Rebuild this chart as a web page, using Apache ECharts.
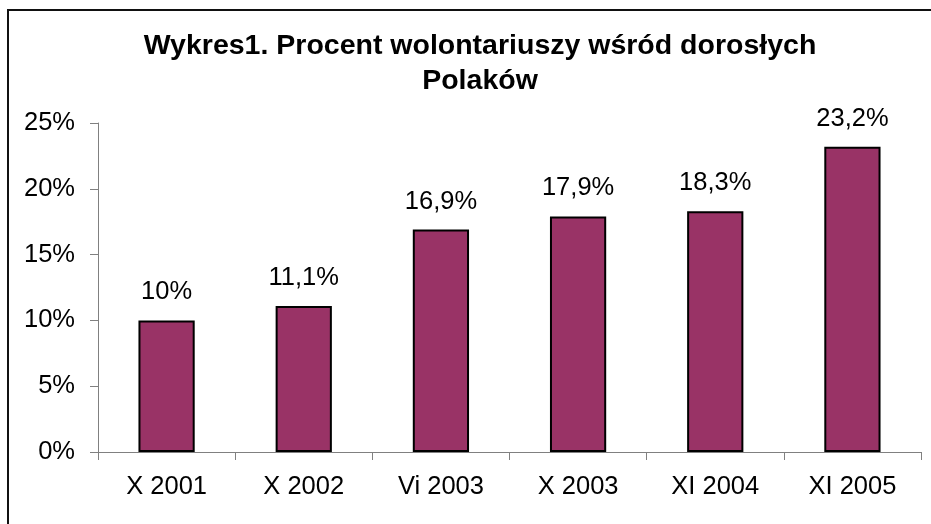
<!DOCTYPE html>
<html>
<head>
<meta charset="utf-8">
<script src="https://cdn.jsdelivr.net/npm/echarts@6/dist/echarts.min.js"></script>
<style>
html,body{margin:0;padding:0;background:#fff;}
#chart{width:931px;height:524px;}
</style>
</head>
<body>
<div id="chart"></div>
<script>
const categories = ["X 2001", "X 2002", "Vi 2003", "X 2003", "XI 2004", "XI 2005"];
const values = [10, 11.1, 16.9, 17.9, 18.3, 23.2];
const yTicks = [0, 5, 10, 15, 20, 25];
const titleText = "Wykres1. Procent wolontariuszy wśród dorosłych\nPolaków";

const chart = echarts.init(document.getElementById('chart'), null, {renderer: 'canvas'});
const fontFam = '"Liberation Sans", Arial, sans-serif';
chart.setOption({
  animation: false,
  backgroundColor: '#fff',
  title: {
    text: titleText,
    left: 475,
    top: 24,
    textAlign: 'center',
    textStyle: {fontFamily: fontFam, fontSize: 28.5, fontWeight: 'bold', color: '#000', lineHeight: 35}
  },
  graphic: [{
    type: 'rect',
    shape: {x: 8, y: 10, width: 940, height: 540},
    style: {fill: 'none', stroke: '#111', lineWidth: 2},
    silent: true
  }],
  grid: {left: 98, right: 10, top: 123, bottom: 72, containLabel: false},
  xAxis: {
    type: 'category',
    data: categories,
    axisLine: {lineStyle: {color: '#808080', width: 1}},
    axisTick: {show: true, length: 8, lineStyle: {color: '#808080'}, alignWithLabel: false},
    axisLabel: {fontFamily: fontFam, fontSize: 25.5, color: '#000', margin: 22}
  },
  yAxis: {
    type: 'value',
    min: yTicks[0],
    max: yTicks[yTicks.length - 1],
    interval: 5,
    splitLine: {show: false},
    axisLine: {show: true, lineStyle: {color: '#808080', width: 1}},
    axisTick: {show: true, length: 8, inside: false, lineStyle: {color: '#808080'}},
    axisLabel: {fontFamily: fontFam, fontSize: 25.5, color: '#000', margin: 23, formatter: v => v + '%'}
  },
  series: [{
    type: 'bar',
    data: values,
    barWidth: '41%',
    itemStyle: {color: '#993366', borderColor: '#000', borderWidth: 2},
    label: {
      show: true,
      position: 'top',
      distance: 15,
      fontFamily: fontFam,
      fontSize: 25.5,
      color: '#000',
      formatter: p => String(p.value).replace('.', ',') + '%'
    }
  }]
});
</script>
</body>
</html>
